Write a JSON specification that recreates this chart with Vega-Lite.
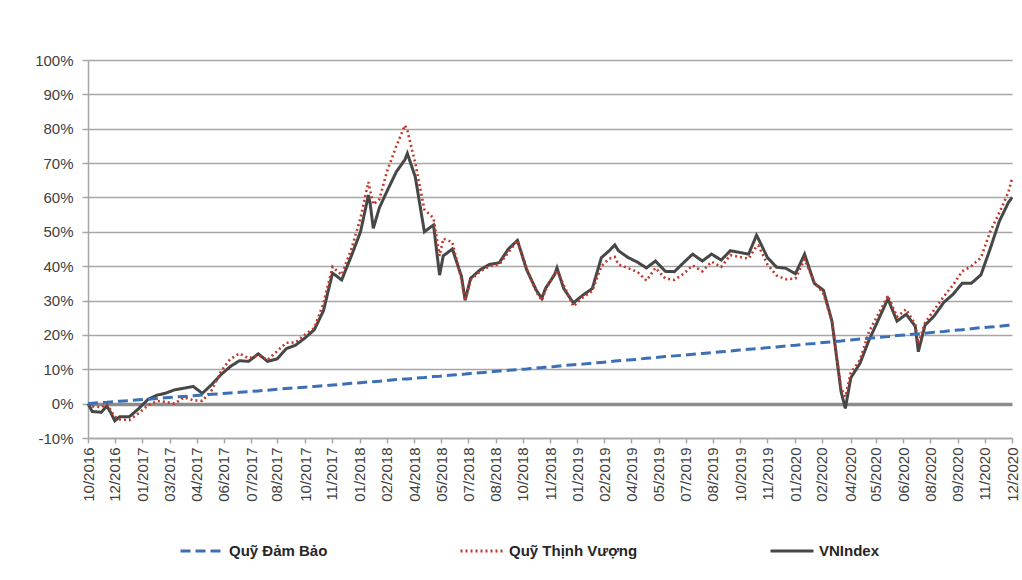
{
  "$schema": "https://vega.github.io/schema/vega-lite/v6.json",
  "width": 924,
  "height": 378,
  "autosize": {"type": "none"},
  "padding": {"left": 88, "top": 60, "right": 10, "bottom": 142},
  "background": "white",
  "config": {"view": {"stroke": null}, "font": "Liberation Sans"},
  "data": {"values": [
    {"date":"2016-10-25","db":0,"tv":0,"vn":0},
    {"date":"2016-11-01","db":0.1,"tv":-0.8,"vn":-2.3},
    {"date":"2016-11-16","db":0.3,"tv":-1.0,"vn":-2.5},
    {"date":"2016-11-25","db":0.4,"tv":-0.2,"vn":-0.7},
    {"date":"2016-12-01","db":0.5,"tv":-1.8,"vn":-2.5},
    {"date":"2016-12-08","db":0.6,"tv":-3.8,"vn":-5.0},
    {"date":"2016-12-16","db":0.7,"tv":-4.6,"vn":-3.8},
    {"date":"2017-01-01","db":0.9,"tv":-4.8,"vn":-3.8},
    {"date":"2017-01-16","db":1.1,"tv":-2.8,"vn":-1.5},
    {"date":"2017-02-01","db":1.3,"tv":-0.5,"vn":1.3},
    {"date":"2017-02-16","db":1.5,"tv":0.8,"vn":2.5},
    {"date":"2017-03-01","db":1.7,"tv":0.5,"vn":3.0},
    {"date":"2017-03-16","db":1.9,"tv":0.0,"vn":4.0},
    {"date":"2017-04-01","db":2.1,"tv":1.8,"vn":4.5},
    {"date":"2017-04-16","db":2.3,"tv":1.0,"vn":5.0},
    {"date":"2017-05-01","db":2.5,"tv":0.8,"vn":3.0},
    {"date":"2017-05-16","db":2.7,"tv":3.8,"vn":5.5},
    {"date":"2017-06-01","db":2.9,"tv":9.5,"vn":8.5},
    {"date":"2017-06-16","db":3.1,"tv":13.0,"vn":10.8},
    {"date":"2017-07-01","db":3.3,"tv":14.6,"vn":12.5},
    {"date":"2017-07-16","db":3.5,"tv":13.2,"vn":12.3},
    {"date":"2017-08-01","db":3.7,"tv":14.1,"vn":14.5},
    {"date":"2017-08-16","db":3.9,"tv":12.7,"vn":12.3},
    {"date":"2017-09-01","db":4.2,"tv":15.3,"vn":13.0},
    {"date":"2017-09-16","db":4.4,"tv":17.7,"vn":16.0},
    {"date":"2017-10-01","db":4.6,"tv":17.8,"vn":17.0},
    {"date":"2017-10-16","db":4.8,"tv":20.0,"vn":19.0},
    {"date":"2017-11-01","db":5.0,"tv":22.0,"vn":21.5},
    {"date":"2017-11-16","db":5.2,"tv":29.2,"vn":27.0},
    {"date":"2017-12-01","db":5.4,"tv":39.8,"vn":38.0},
    {"date":"2017-12-16","db":5.6,"tv":37.5,"vn":36.0},
    {"date":"2018-01-01","db":5.9,"tv":45.0,"vn":43.0},
    {"date":"2018-01-16","db":6.1,"tv":54.0,"vn":50.0},
    {"date":"2018-01-29","db":6.3,"tv":64.5,"vn":60.7},
    {"date":"2018-02-01","db":6.3,"tv":62.0,"vn":58.0},
    {"date":"2018-02-06","db":6.4,"tv":58.0,"vn":51.0},
    {"date":"2018-02-16","db":6.5,"tv":59.5,"vn":57.0},
    {"date":"2018-03-01","db":6.7,"tv":67.8,"vn":62.0},
    {"date":"2018-03-16","db":7.0,"tv":75.0,"vn":67.5},
    {"date":"2018-03-30","db":7.2,"tv":81.0,"vn":71.0},
    {"date":"2018-04-03","db":7.2,"tv":79.5,"vn":72.8},
    {"date":"2018-04-16","db":7.4,"tv":70.0,"vn":66.0},
    {"date":"2018-05-01","db":7.6,"tv":56.5,"vn":50.0},
    {"date":"2018-05-16","db":7.9,"tv":54.0,"vn":52.0},
    {"date":"2018-05-26","db":8.0,"tv":43.0,"vn":37.4},
    {"date":"2018-06-01","db":8.1,"tv":48.0,"vn":43.0},
    {"date":"2018-06-16","db":8.3,"tv":47.0,"vn":45.0},
    {"date":"2018-07-01","db":8.5,"tv":36.0,"vn":37.0},
    {"date":"2018-07-07","db":8.6,"tv":30.0,"vn":30.1},
    {"date":"2018-07-16","db":8.8,"tv":36.0,"vn":36.5},
    {"date":"2018-08-01","db":9.0,"tv":38.5,"vn":39.0},
    {"date":"2018-08-16","db":9.2,"tv":40.0,"vn":40.5},
    {"date":"2018-09-01","db":9.5,"tv":40.5,"vn":41.0},
    {"date":"2018-09-16","db":9.7,"tv":44.0,"vn":45.0},
    {"date":"2018-10-01","db":9.9,"tv":47.5,"vn":47.5},
    {"date":"2018-10-16","db":10.1,"tv":39.5,"vn":39.0},
    {"date":"2018-11-01","db":10.4,"tv":32.5,"vn":33.0},
    {"date":"2018-11-10","db":10.5,"tv":30.0,"vn":30.6},
    {"date":"2018-11-16","db":10.6,"tv":33.0,"vn":33.5},
    {"date":"2018-12-01","db":10.8,"tv":38.0,"vn":37.5},
    {"date":"2018-12-05","db":10.9,"tv":38.9,"vn":39.5},
    {"date":"2018-12-16","db":11.1,"tv":34.5,"vn":33.5},
    {"date":"2019-01-01","db":11.3,"tv":28.3,"vn":29.3},
    {"date":"2019-01-16","db":11.5,"tv":30.8,"vn":31.5},
    {"date":"2019-02-01","db":11.8,"tv":32.8,"vn":33.5},
    {"date":"2019-02-16","db":12.0,"tv":40.0,"vn":42.5},
    {"date":"2019-03-01","db":12.2,"tv":42.2,"vn":44.5},
    {"date":"2019-03-10","db":12.4,"tv":42.7,"vn":46.2},
    {"date":"2019-03-16","db":12.5,"tv":40.5,"vn":44.5},
    {"date":"2019-04-01","db":12.7,"tv":39.4,"vn":42.5},
    {"date":"2019-04-16","db":12.9,"tv":38.4,"vn":41.2},
    {"date":"2019-05-01","db":13.2,"tv":35.8,"vn":39.5},
    {"date":"2019-05-16","db":13.4,"tv":39.5,"vn":41.5},
    {"date":"2019-06-01","db":13.7,"tv":36.4,"vn":38.5},
    {"date":"2019-06-16","db":13.9,"tv":36.0,"vn":38.4},
    {"date":"2019-07-01","db":14.1,"tv":37.8,"vn":41.0},
    {"date":"2019-07-16","db":14.4,"tv":40.2,"vn":43.5},
    {"date":"2019-08-01","db":14.6,"tv":38.5,"vn":41.5},
    {"date":"2019-08-16","db":14.8,"tv":41.3,"vn":43.5},
    {"date":"2019-09-01","db":15.1,"tv":39.8,"vn":41.8},
    {"date":"2019-09-16","db":15.3,"tv":43.2,"vn":44.5},
    {"date":"2019-10-01","db":15.6,"tv":42.7,"vn":44.0},
    {"date":"2019-10-16","db":15.8,"tv":42.2,"vn":43.5},
    {"date":"2019-10-29","db":16.0,"tv":45.8,"vn":49.0},
    {"date":"2019-11-01","db":16.0,"tv":46.0,"vn":48.0},
    {"date":"2019-11-16","db":16.3,"tv":40.5,"vn":42.5},
    {"date":"2019-12-01","db":16.5,"tv":37.3,"vn":39.7},
    {"date":"2019-12-16","db":16.8,"tv":36.2,"vn":39.4},
    {"date":"2020-01-01","db":17.0,"tv":36.4,"vn":37.8},
    {"date":"2020-01-16","db":17.3,"tv":42.0,"vn":43.5},
    {"date":"2020-02-01","db":17.5,"tv":35.3,"vn":35.0},
    {"date":"2020-02-16","db":17.8,"tv":32.0,"vn":33.0},
    {"date":"2020-03-01","db":18.0,"tv":24.0,"vn":24.0},
    {"date":"2020-03-16","db":18.2,"tv":4.5,"vn":3.5},
    {"date":"2020-03-23","db":18.4,"tv":2.0,"vn":-1.4},
    {"date":"2020-04-01","db":18.5,"tv":9.0,"vn":7.5},
    {"date":"2020-04-16","db":18.8,"tv":12.7,"vn":11.7},
    {"date":"2020-05-01","db":19.0,"tv":21.0,"vn":18.5},
    {"date":"2020-05-16","db":19.3,"tv":26.0,"vn":24.3},
    {"date":"2020-06-01","db":19.5,"tv":31.4,"vn":30.5},
    {"date":"2020-06-16","db":19.8,"tv":25.3,"vn":24.0},
    {"date":"2020-07-01","db":20.0,"tv":27.5,"vn":26.0},
    {"date":"2020-07-16","db":20.3,"tv":23.0,"vn":22.5},
    {"date":"2020-07-21","db":20.3,"tv":17.5,"vn":15.1},
    {"date":"2020-08-01","db":20.5,"tv":23.5,"vn":22.8},
    {"date":"2020-08-16","db":20.8,"tv":27.3,"vn":25.5},
    {"date":"2020-09-01","db":21.0,"tv":31.2,"vn":29.5},
    {"date":"2020-09-16","db":21.3,"tv":34.5,"vn":31.8},
    {"date":"2020-10-01","db":21.5,"tv":38.5,"vn":35.0},
    {"date":"2020-10-16","db":21.8,"tv":40.0,"vn":35.0},
    {"date":"2020-11-01","db":22.1,"tv":42.5,"vn":37.5},
    {"date":"2020-11-16","db":22.3,"tv":50.0,"vn":45.0},
    {"date":"2020-12-01","db":22.5,"tv":55.5,"vn":53.0},
    {"date":"2020-12-16","db":22.8,"tv":61.5,"vn":58.5},
    {"date":"2020-12-22","db":22.9,"tv":65.5,"vn":60.0}
  ]},
  "transform": [{"fold": ["db", "tv", "vn"], "as": ["key", "value"]}],
  "encoding": {
    "x": {
      "field": "date", "type": "temporal",
      "scale": {"type": "utc", "nice": false, "domain": [{"year":2016,"month":10,"date":25,"utc":true},{"year":2020,"month":12,"date":22,"utc":true}]},
      "axis": {
        "title": null, "grid": false, "labelExpr": "utcFormat(datum.value, '%m/%Y')", "labelAngle": -90,
        "labelFontSize": 15, "labelColor": "#404040", "labelOverlap": false, "labelFlush": false, "labelBound": false,
        "tickColor": "#a6a6a6", "tickSize": 5, "tickWidth": 1.5, "labelPadding": 4,
        "domainColor": "#a6a6a6", "domainWidth": 1.5,
        "values": [
          {"year":2016,"month":10,"date":25,"utc":true},
          {"year":2016,"month":12,"date":8,"utc":true},
          {"year":2017,"month":1,"date":22,"utc":true},
          {"year":2017,"month":3,"date":8,"utc":true},
          {"year":2017,"month":4,"date":22,"utc":true},
          {"year":2017,"month":6,"date":5,"utc":true},
          {"year":2017,"month":7,"date":20,"utc":true},
          {"year":2017,"month":8,"date":31,"utc":true},
          {"year":2017,"month":10,"date":17,"utc":true},
          {"year":2017,"month":11,"date":30,"utc":true},
          {"year":2018,"month":1,"date":15,"utc":true},
          {"year":2018,"month":2,"date":28,"utc":true},
          {"year":2018,"month":4,"date":14,"utc":true},
          {"year":2018,"month":5,"date":29,"utc":true},
          {"year":2018,"month":7,"date":12,"utc":true},
          {"year":2018,"month":8,"date":26,"utc":true},
          {"year":2018,"month":10,"date":10,"utc":true},
          {"year":2018,"month":11,"date":24,"utc":true},
          {"year":2019,"month":1,"date":7,"utc":true},
          {"year":2019,"month":2,"date":21,"utc":true},
          {"year":2019,"month":4,"date":6,"utc":true},
          {"year":2019,"month":5,"date":21,"utc":true},
          {"year":2019,"month":7,"date":5,"utc":true},
          {"year":2019,"month":8,"date":18,"utc":true},
          {"year":2019,"month":10,"date":2,"utc":true},
          {"year":2019,"month":11,"date":16,"utc":true},
          {"year":2020,"month":1,"date":1,"utc":true},
          {"year":2020,"month":2,"date":13,"utc":true},
          {"year":2020,"month":4,"date":1,"utc":true},
          {"year":2020,"month":5,"date":12,"utc":true},
          {"year":2020,"month":6,"date":26,"utc":true},
          {"year":2020,"month":8,"date":10,"utc":true},
          {"year":2020,"month":9,"date":24,"utc":true},
          {"year":2020,"month":11,"date":7,"utc":true},
          {"year":2020,"month":12,"date":22,"utc":true}
        ]
      }
    },
    "y": {
      "field": "value", "type": "quantitative",
      "scale": {"domain": [-10, 100], "nice": false, "zero": false},
      "axis": {
        "title": null, "values": [-10,0,10,20,30,40,50,60,70,80,90,100],
        "labelExpr": "datum.value + '%'", "labelFontSize": 15, "labelColor": "#404040",
        "labelOverlap": false, "labelFlush": false, "labelBound": false,
        "grid": true,
        "gridColor": {"condition": {"test": "datum.value === 0", "value": "#8c8c8c"}, "value": "#a6a6a6"},
        "gridWidth": {"condition": {"test": "datum.value === 0", "value": 3.5}, "value": 1.5},
        "tickColor": "#a6a6a6", "tickSize": 6, "tickWidth": 1.5, "labelPadding": 9,
        "domainColor": "#a6a6a6", "domainWidth": 1.5
      }
    },
    "color": {
      "field": "key", "type": "nominal",
      "scale": {"domain": ["db", "tv", "vn"], "range": ["#3d6fb6", "#c0392b", "#474747"]},
      "legend": {
        "orient": "none", "legendX": 91, "legendY": 468, "direction": "horizontal", "title": null,
        "symbolType": "stroke", "symbolSize": 1849, "symbolStrokeWidth": 3,
        "labelFontSize": 15, "labelFontWeight": "bold", "labelColor": "#262626",
        "columnPadding": 126, "labelOffset": 4,
        "labelExpr": "datum.label == 'db' ? 'Quỹ Đảm Bảo' : datum.label == 'tv' ? 'Quỹ Thịnh Vượng' : 'VNIndex'"
      }
    },
    "strokeDash": {
      "field": "key", "type": "nominal",
      "scale": {"domain": ["db", "tv", "vn"], "range": [[10, 5], [2, 3], [1, 0]]}
    }
  },
  "layer": [
    {
      "transform": [{"filter": "datum.key == 'vn'"}],
      "mark": {"type": "line", "strokeWidth": 3}
    },
    {
      "transform": [{"filter": "datum.key == 'tv'"}],
      "mark": {"type": "line", "strokeWidth": 2.6}
    },
    {
      "transform": [{"filter": "datum.key == 'db'"}],
      "mark": {"type": "line", "strokeWidth": 3}
    }
  ]
}
